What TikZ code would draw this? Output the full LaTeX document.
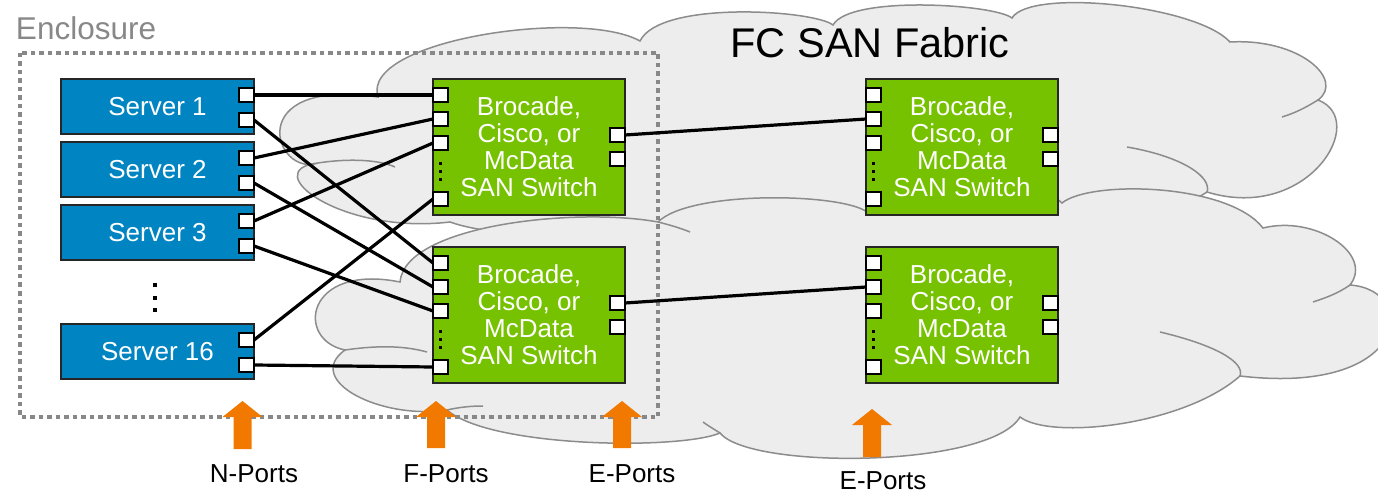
\documentclass[tikz,border=0pt]{standalone}
\usepackage{fontspec}
\setmainfont{Liberation Sans}
\usetikzlibrary{positioning}
\definecolor{ServerBlue}{HTML}{0084C2}
\definecolor{SwitchGreen}{HTML}{76C200}
\definecolor{CloudGray}{HTML}{EDEDED}
\definecolor{CloudLine}{HTML}{8C8C8C}
\definecolor{EncGray}{HTML}{888888}
\definecolor{PortOrange}{HTML}{F27900}

\begin{document}
\begin{tikzpicture}[
  x=1pt,y=-1pt,
  every node/.style={inner sep=0pt,outer sep=0pt},
  boxtext/.style={font=\fontsize{26}{27}\selectfont},
  server/.style={boxtext,draw=black!85,line width=2pt,fill=ServerBlue,text=white,minimum width=193pt,minimum height=55pt},
  switch/.style={boxtext,draw=black!85,line width=2pt,fill=SwitchGreen,text=white,align=center,minimum width=192pt,minimum height=136pt},
  port/.style={draw=black,line width=2pt,fill=white,minimum width=15pt,minimum height=14pt},
  fabric/.style={draw=CloudLine,line width=1.5pt,fill=CloudGray},
  puff/.style={draw=CloudLine,line width=1.5pt},
  enclosure/.style={draw=EncGray,line width=4.5pt,dash pattern=on 4.5pt off 4pt},
  link/.style={line width=3.2pt}
]
  \clip (0,0) rectangle (1378,494);

  % fabric cloud, upper part
  \draw[fabric] (318,163) .. controls (275,178) and (240,77) .. (378,97)
    .. controls (360,40) and (581,8) .. (640,41)
    .. controls (660,0) and (814,10) .. (833,25)
    .. controls (850,-5) and (994,4) .. (1012,18)
    .. controls (1030,-12) and (1196,5) .. (1230,42)
    .. controls (1300,38) and (1345,80) .. (1318,100)
    .. controls (1370,120) and (1308,223) .. (1207,192)
    .. controls (1150,230) and (1000,235) .. (870,215)
    .. controls (800,240) and (700,240) .. (658,222)
    .. controls (600,235) and (500,240) .. (450,222)
    .. controls (340,235) and (257,170) .. (318,163) -- cycle;
  % fabric cloud, lower part
  \draw[fabric] (400,282) .. controls (405,225) and (576,207) .. (658,222)
    .. controls (690,190) and (842,193) .. (867,212)
    .. controls (890,185) and (1040,180) .. (1062,203)
    .. controls (1090,180) and (1228,183) .. (1263,228)
    .. controls (1315,215) and (1374,254) .. (1350,285)
    .. controls (1420,290) and (1410,396) .. (1240,376)
    .. controls (1183,426) and (1050,440) .. (1020,417)
    .. controls (990,468) and (750,470) .. (720,433)
    .. controls (680,450) and (491,448) .. (447,410)
    .. controls (380,420) and (303,380) .. (345,350)
    .. controls (295,340) and (305,263) .. (400,282) -- cycle;
  \draw[puff] (318,163) .. controls (350,158) and (380,160) .. (395,167)
    (1318,100) .. controls (1305,108) and (1295,113) .. (1282,117)
    (1127,147) .. controls (1185,157) and (1212,178) .. (1207,192)
    (658,222) .. controls (670,225) and (680,228) .. (690,232)
    (1350,285) .. controls (1337,294) and (1325,298) .. (1313,302)
    (1160,332) .. controls (1215,345) and (1245,362) .. (1240,376)
    (720,433) .. controls (712,428) and (707,425) .. (703,422)
    (345,350) .. controls (380,345) and (405,346) .. (427,352)
    (447,410) .. controls (460,407) and (472,406) .. (483,406);

  \node[font=\fontsize{41.5}{41.5}\selectfont] (title) at (870,43) {FC SAN Fabric};

  % enclosure
  \draw[enclosure] (20,53) rectangle (658,417);
  \node[font=\fontsize{31.5}{31.5}\selectfont,text=EncGray,anchor=west] (encl) at (16,28) {Enclosure};

  % servers
  \node[server] (srv1) at (157.5,106.5) {Server 1};
  \node[server,below=8pt of srv1] (srv2) {Server 2};
  \node[server,below=8pt of srv2] (srv3) {Server 3};
  \node[server,below=64pt of srv3] (srv16) {Server 16};
  \foreach \s in {srv1,srv2,srv3,srv16} {
    \node[port,below left=9pt and 0pt of \s.north east] (\s-1) {};
    \node[port,below left=34pt and 0pt of \s.north east] (\s-2) {};
  }
  \foreach \y in {285,298,310}
    \fill (153,\y-2) rectangle +(4,4);

  % switches
  \node[switch] (sw1) at (529,147) {Brocade,\\Cisco, or\\McData\\SAN Switch};
  \node[switch,below=32pt of sw1] (sw2) {Brocade,\\Cisco, or\\McData\\SAN Switch};
  \node[switch,right=241pt of sw1] (sw3) {Brocade,\\Cisco, or\\McData\\SAN Switch};
  \node[switch,below=32pt of sw3] (sw4) {Brocade,\\Cisco, or\\McData\\SAN Switch};
  \foreach \s in {sw1,sw2,sw3,sw4} {
    \node[port,below right=9pt and 0pt of \s.north west] (\s-1) {};
    \node[port,below right=33pt and 0pt of \s.north west] (\s-2) {};
    \node[port,below right=57pt and 0pt of \s.north west] (\s-3) {};
    \node[port,below right=113pt and 0pt of \s.north west] (\s-4) {};
    \node[port,below left=49pt and 0pt of \s.north east] (\s-5) {};
    \node[port,below left=73pt and 0pt of \s.north east] (\s-6) {};
    \foreach \d in {83,91,99}
      \fill[shift={(\s.north west)}] (5.5,\d) rectangle +(3,3);
  }

  % links
  \foreach \a/\b in {srv1-1/sw1-1,srv1-2/sw2-1,srv2-1/sw1-2,srv2-2/sw2-2,
                     srv3-1/sw1-3,srv3-2/sw2-3,srv16-1/sw1-4,srv16-2/sw2-4,
                     sw1-5/sw3-2,sw2-5/sw4-2}
    \draw[link] (\a.east) -- (\b.west);

  % port type markers
  \foreach \x/\t/\b in {242.5/401/449,436/401/448,622/401/448,872/409/457}
    \fill[PortOrange] (\x,\t) -- (\x+20,\t+16) -- (\x+9,\t+16) -- (\x+9,\b)
      -- (\x-9,\b) -- (\x-9,\t+16) -- (\x-20,\t+16) -- cycle;
  \node[boxtext] (nports) at (254,474) {N-Ports};
  \node[boxtext] (fports) at (446,474) {F-Ports};
  \node[boxtext] (eports) at (632,474) {E-Ports};
  \node[boxtext] (eports2) at (883,481) {E-Ports};
\end{tikzpicture}
\end{document}
